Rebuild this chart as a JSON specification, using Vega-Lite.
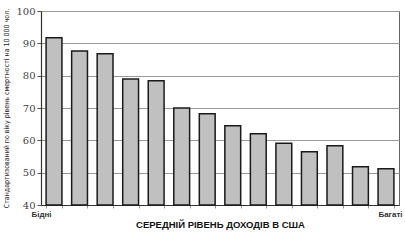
{
  "$schema": "https://vega.github.io/schema/vega-lite/v6.json",
  "autosize": {"type": "none"},
  "padding": {"left": 41, "top": 11, "right": 6, "bottom": 25},
  "width": 358,
  "height": 194,
  "background": "white",
  "data": {"values": [
    {"i": 1, "v": 91.7}, {"i": 2, "v": 87.6}, {"i": 3, "v": 86.8}, {"i": 4, "v": 79.0},
    {"i": 5, "v": 78.4}, {"i": 6, "v": 70.0}, {"i": 7, "v": 68.2}, {"i": 8, "v": 64.5},
    {"i": 9, "v": 62.0}, {"i": 10, "v": 59.1}, {"i": 11, "v": 56.5}, {"i": 12, "v": 58.3},
    {"i": 13, "v": 51.8}, {"i": 14, "v": 51.2}
  ]},
  "config": {
    "view": {"stroke": "#666", "strokeWidth": 1},
    "axis": {"domainColor": "#333", "tickColor": "#555"}
  },
  "mark": {"type": "bar", "fill": "#c0c0c0", "stroke": "#1a1a1a", "strokeWidth": 1.5},
  "encoding": {
    "x": {
      "field": "i", "type": "ordinal",
      "scale": {"paddingInner": 0.38, "paddingOuter": 0.2},
      "axis": {
        "title": "СЕРЕДНІЙ РІВЕНЬ ДОХОДІВ В США",
        "titleFont": "Liberation Sans", "titleFontSize": 9.5, "titleFontWeight": "bold",
        "titleColor": "#111", "titlePadding": 1,
        "labelExpr": "datum.value == 1 ? 'Бідні' : (datum.value == 14 ? 'Багаті' : '')",
        "labelAngle": 0,
        "labelFont": "Liberation Sans", "labelFontSize": 8, "labelFontWeight": "bold",
        "labelColor": "#333",
        "labelOffset": {"condition": {"test": "datum.value == 1", "value": -13}, "value": 4},
        "labelPadding": 2,
        "tickBand": "extent", "tickSize": 3, "tickColor": "#999",
        "grid": false, "domainColor": "#333", "domainWidth": 1.2
      }
    },
    "y": {
      "field": "v", "type": "quantitative",
      "scale": {"domain": [40, 100], "zero": false, "nice": false},
      "axis": {
        "title": "Стандартизований по віку рівень смертності на 10 000 чол.",
        "titleFont": "DejaVu Sans Condensed", "titleFontSize": 7, "titleFontWeight": "normal",
        "titleColor": "#222", "titlePadding": 6,
        "values": [40, 50, 60, 70, 80, 90, 100],
        "labelFont": "DejaVu Serif", "labelFontSize": 10, "labelColor": "#444",
        "tickSize": 4, "labelPadding": 2,
        "grid": true, "gridColor": "#999", "gridWidth": 1,
        "domainColor": "#333", "domainWidth": 1.2
      }
    },
    "y2": {"datum": 40}
  }
}
